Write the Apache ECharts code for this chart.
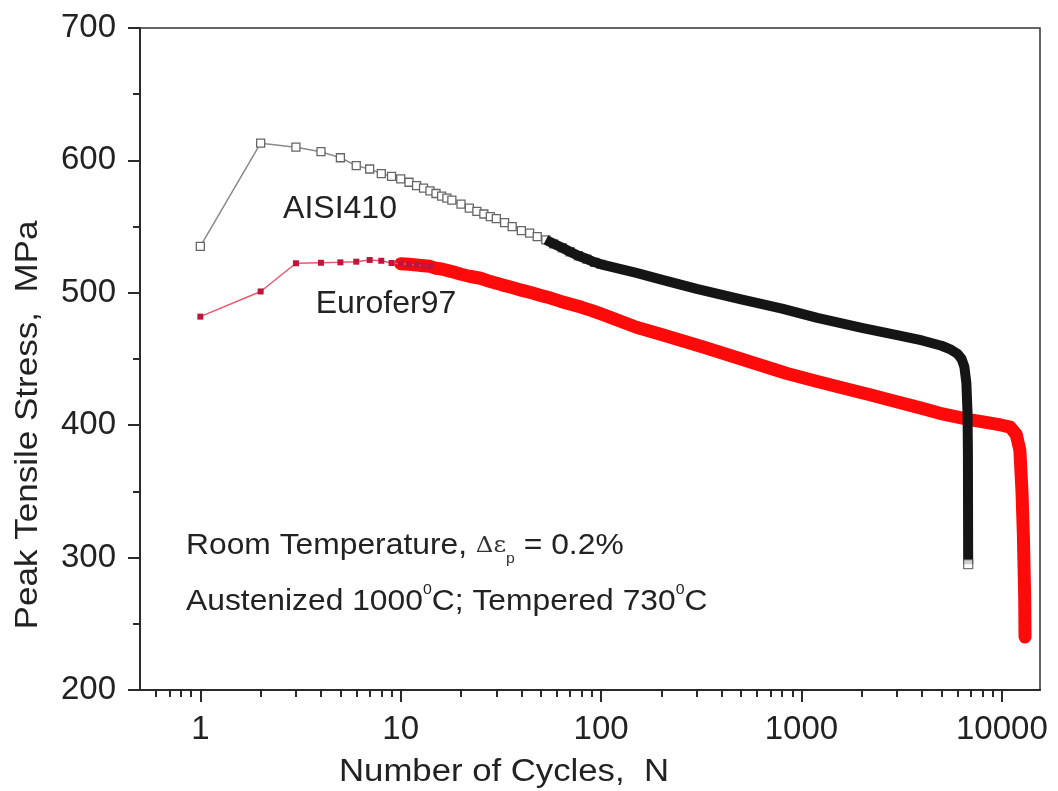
<!DOCTYPE html>
<html>
<head>
<meta charset="utf-8">
<script src="https://cdn.jsdelivr.net/npm/echarts@6/dist/echarts.min.js"></script>
<style>
html,body{margin:0;padding:0;background:#fff;}
#chart{width:1058px;height:791px;}
</style>
</head>
<body>
<div id="chart"></div>
<script>
// ---- data ----
const aisiN = [1,2,3,4,5,6,7,8,9,10,11,12,13,14,15,16,17,18,20,22,24,26,28,30,33,36,40,44,48,53,58,64,70,77,85,93,100,
  150,200,300,500,800,1200,2000,3000,4000,5000,5500,6000,6300,6500,6650,6740,6770,6780,6790];
const aisiS = [535,613,610,606.6,602,596,593.5,590,588,586,583.5,581,579,577,575,573,571.5,570,567,564,561.5,559.5,557.5,556,553,550,547,545,542.5,540,537,534,531,528,525.5,523,521.5,
  515,510,503,495,488,481,473.5,468,464,460,457.5,454,450,444,432,410,380,340,295];

const euroN = [1,2,3,4,5,6,7,8,9,10,11,12,13,14,15,16,18,20,22,25,28,32,36,40,45,50,56,63,70,80,90,100,
  150,200,323,500,847,1200,1556,2197,2762,4000,4908,7000,8776,10000,11000,11800,12300,12600,12800,13000,13050];
const euroS = [482,501,522.3,522.7,523,523.5,524.8,524.2,522.5,522,521.5,521,520.5,520,518.5,518,516,514,512.5,511,508.5,506,504,502,500,498,496,493.5,491.5,489,486.5,484,
  474,468.5,459,450,439,433,428.7,423,419,412.7,409,404,401.5,400,398.5,393,381,350,318,270,240];

const xMajorTicks = [1,10,100,1000,10000];
const xMinorTicks = [0.6,0.7,0.8,0.9,2,3,4,5,6,7,8,9,20,30,40,50,60,70,80,90,
  200,300,400,500,600,700,800,900,2000,3000,4000,5000,6000,7000,8000,9000];
const yTicks = {min:200, max:700, step:100};

// ---- build ----
const zip = (xs, ys, f) => xs.map((x,i)=>[x, ys[i]]).filter(p => f(p[0]));
const FONT = "'Liberation Sans', Arial, Helvetica, sans-serif";

const aisiSparse = zip(aisiN, aisiS, n => n <= 100);
const aisiBand = zip(aisiN, aisiS, n => n >= 50);
const aisiLast = [[aisiN[aisiN.length-1], aisiS[aisiS.length-1]]];
const euroSparse = zip(euroN, euroS, n => n <= 14);
const euroBand = zip(euroN, euroS, n => n >= 10);

const chart = echarts.init(document.getElementById('chart'), null, {renderer:'canvas'});
const axisColor = '#2a2a2a';
const txt = (x, y, text, size, extra) => Object.assign({type:'text', x:x, y:y,
  style:{text:text, fontSize:size, fontFamily:FONT, fill:'#222', align:'center', verticalAlign:'middle', textAlign:'center', textVerticalAlign:'middle'}}, extra || {});
const option = {
  animation: false,
  backgroundColor: '#fff',
  grid: {left:140, right:18, top:28, bottom:101, show:true, borderColor:'#333', borderWidth:1.5, backgroundColor:'transparent'},
  xAxis: [{
    type:'log', logBase:10, min:0.5, max:15500,
    axisLine:{show:true, onZero:false, lineStyle:{color:axisColor, width:2}},
    axisTick:{show:true, inside:false, length:12, customValues:xMajorTicks, lineStyle:{color:axisColor, width:2}},
    axisLabel:{show:true, customValues:xMajorTicks, fontSize:33, fontFamily:FONT, color:'#222', margin:23,
      formatter: v => String(Math.round(v))},
    splitLine:{show:false}, minorTick:{show:false}, minorSplitLine:{show:false}
  },{
    type:'log', logBase:10, min:0.5, max:15500, position:'bottom',
    axisLine:{show:false},
    axisTick:{show:true, inside:false, length:7, customValues:xMinorTicks, lineStyle:{color:axisColor, width:2}},
    axisLabel:{show:false}, splitLine:{show:false}
  }],
  yAxis: {
    type:'value', min:yTicks.min, max:yTicks.max, interval:yTicks.step,
    axisLine:{show:true, onZero:false, lineStyle:{color:axisColor, width:2}},
    axisTick:{show:true, inside:false, length:12, lineStyle:{color:axisColor, width:2}},
    minorTick:{show:true, splitNumber:2, length:7, lineStyle:{color:axisColor, width:2}},
    axisLabel:{fontSize:33, fontFamily:FONT, color:'#222', margin:24},
    splitLine:{show:false}
  },
  series: [
    {name:'Eurofer97 band', type:'line', data:euroBand, showSymbol:false, symbol:'none', z:2,
      lineStyle:{color:'#ff0a0a', width:13, join:'round', cap:'round'}},
    {name:'Eurofer97', type:'line', data:euroSparse, symbol:'rect', symbolSize:6, showAllSymbol:true, z:3,
      lineStyle:{color:'#e8586e', width:1.5}, itemStyle:{color:'#c0143a'}},
    {name:'AISI410', type:'line', data:aisiSparse, symbol:'rect', symbolSize:8, showAllSymbol:true, z:4,
      lineStyle:{color:'#8a8a8a', width:1.5}, itemStyle:{color:'#fff', borderColor:'#666', borderWidth:1.3}},
    {name:'AISI410 band', type:'line', data:aisiBand, showSymbol:false, symbol:'none', z:5,
      lineStyle:{color:'#151515', width:10, join:'round', cap:'butt'}},
    {name:'AISI410 end', type:'scatter', data:aisiLast, symbol:'rect', symbolSize:9, z:6,
      itemStyle:{color:'#fff', borderColor:'#555', borderWidth:1.3}}
  ],
  graphic: [
    txt(504, 772, 'Number of Cycles,  N', 31, {scaleX:1.12}),
    txt(28, 425, 'Peak Tensile Stress,  MPa', 31, {rotation:Math.PI/2, scaleX:1.13}),
    txt(340, 209, 'AISI410', 32),
    txt(386, 304, 'Eurofer97', 32),
    {type:'text', x:186, y:546, scaleX:1.06, style:{
      text:'Room Temperature, {d|Δε}{s|p}{n| = 0.2%}', fontSize:30, fontFamily:FONT, fill:'#222', lineHeight:40,
      align:'left', verticalAlign:'middle', textAlign:'left', textVerticalAlign:'middle',
      rich:{ d:{fontSize:23, fontFamily:"'DejaVu Serif', serif", fill:'#333', lineHeight:40, verticalAlign:'middle'},
             s:{fontSize:15, fontFamily:FONT, fill:'#333', lineHeight:40, verticalAlign:'bottom'},
             n:{fontSize:30, fontFamily:FONT, fill:'#222', lineHeight:40} } }},
    {type:'text', x:186, y:602, scaleX:1.06, style:{
      text:'Austenized 1000{u|0}C; Tempered 730{u|0}C', fontSize:30, fontFamily:FONT, fill:'#222', lineHeight:40,
      align:'left', verticalAlign:'middle', textAlign:'left', textVerticalAlign:'middle',
      rich:{ u:{fontSize:15, fontFamily:FONT, fill:'#222', lineHeight:40, verticalAlign:'top'} } }}
  ]
};
chart.setOption(option);
</script>
</body>
</html>
